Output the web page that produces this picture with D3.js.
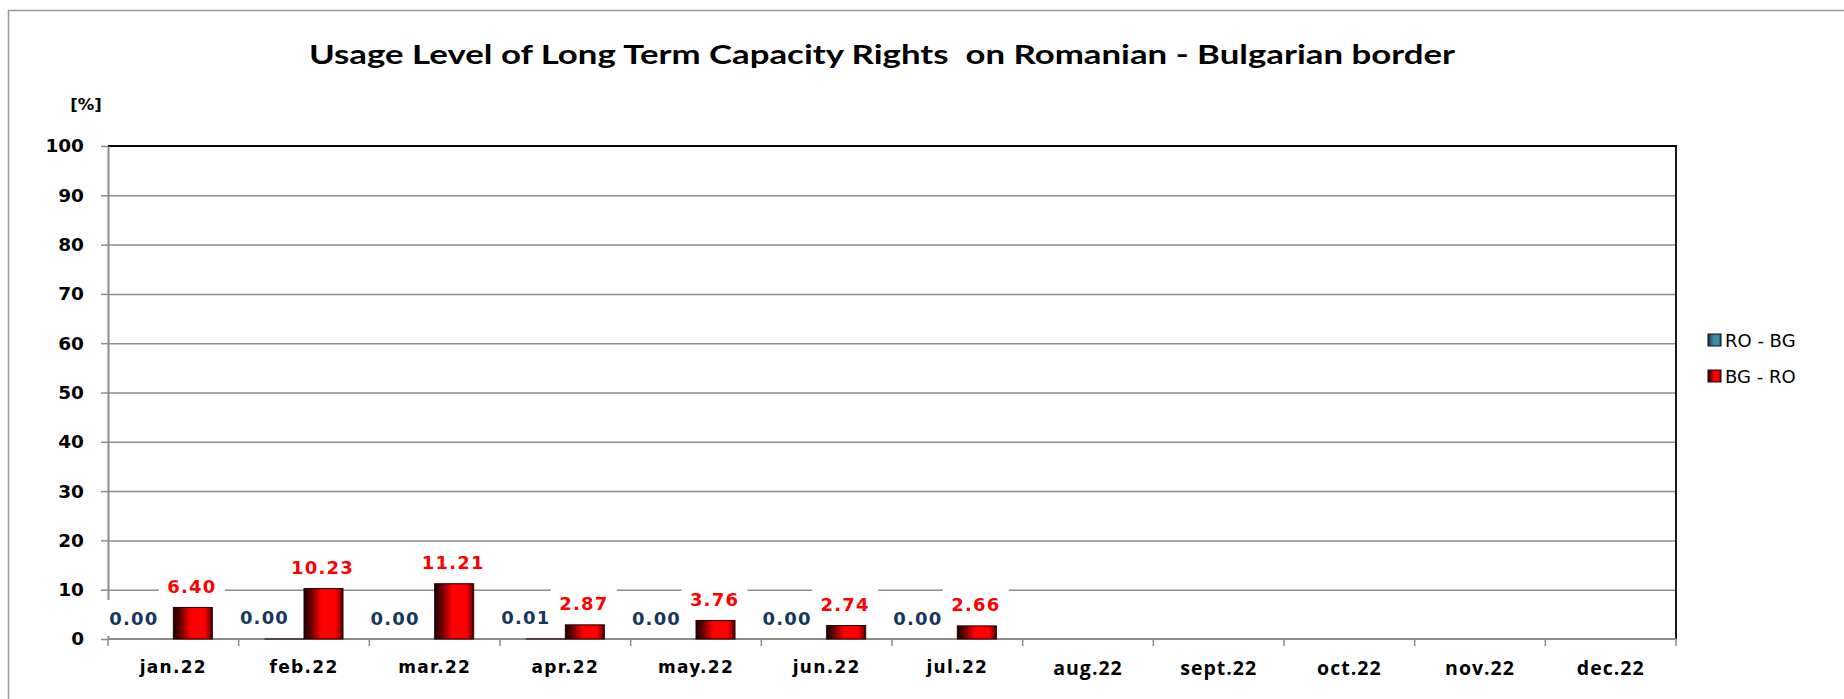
<!DOCTYPE html>
<html>
<head>
<meta charset="utf-8">
<script src="https://cdn.jsdelivr.net/npm/d3@7"></script>
<style>
  html, body { margin: 0; padding: 0; background: #fff; }
  svg { display: block; }
</style>
</head>
<body>
<svg id="chart" width="1844" height="699"></svg>
<script>
// Monthly usage of long term capacity rights, in percent
const categories = ["jan.22", "feb.22", "mar.22", "apr.22", "may.22", "jun.22",
                    "jul.22", "aug.22", "sept.22", "oct.22", "nov.22", "dec.22"];
const seriesNames = ["RO - BG", "BG - RO"];
const roBg = [0, 0.004, 0, 0.01, 0, 0, 0, null, null, null, null, null];
const bgRo = [6.40, 10.23, 11.21, 2.87, 3.76, 2.74, 2.66, null, null, null, null, null];
const yTicks = [0, 10, 20, 30, 40, 50, 60, 70, 80, 90, 100];
const titleText = "Usage Level of Long Term Capacity Rights  on Romanian - Bulgarian border";
const unitText = "[%]";

const svg = d3.select("#chart");
const plot = { left: 108, right: 1676, top: 146, bottom: 639 };

// gradients for the bar faces
const defs = svg.append("defs");
function barGradient(id, stops) {
  const g = defs.append("linearGradient").attr("id", id)
    .attr("x1", "0%").attr("x2", "100%").attr("y1", "0%").attr("y2", "0%");
  stops.forEach(([o, c]) => g.append("stop").attr("offset", o).attr("stop-color", c));
}
barGradient("gradRed", [["0%", "#1a0000"], ["15%", "#5a0000"], ["45%", "#ff0000"],
                        ["80%", "#ff0000"], ["93%", "#a00000"], ["100%", "#2a0000"]]);
barGradient("gradBlue", [["0%", "#0f2a33"], ["15%", "#1f5566"], ["45%", "#3a8fa8"],
                         ["80%", "#3a8fa8"], ["93%", "#24606f"], ["100%", "#10262c"]]);
const fills = { "RO - BG": "url(#gradBlue)", "BG - RO": "url(#gradRed)" };
const labelColors = { "RO - BG": "#17375e", "BG - RO": "#ff0000" };

// outer chart frame (extends past the right and bottom edges)
svg.append("rect")
  .attr("x", 8.5).attr("y", 10.5).attr("width", 1900).attr("height", 800)
  .attr("fill", "none").attr("stroke", "#9a9a9a").attr("stroke-width", 1.5);

// title
svg.append("text")
  .attr("x", 882).attr("y", 64)
  .attr("text-anchor", "middle")
  .attr("font-family", "Lato, 'Open Sans', sans-serif")
  .attr("font-weight", "bold").attr("font-size", 27)
  .attr("textLength", 1146).attr("lengthAdjust", "spacingAndGlyphs")
  .style("white-space", "pre")
  .attr("fill", "#000")
  .text(titleText);

// unit label
svg.append("text")
  .attr("x", 86).attr("y", 110)
  .attr("text-anchor", "middle")
  .attr("font-family", "'DejaVu Sans', sans-serif")
  .attr("font-weight", "bold").attr("font-size", 16.5)
  .text(unitText);

// scales
const x = d3.scaleBand().domain(categories).range([plot.left, plot.right]).paddingInner(0).paddingOuter(0);
const xs = d3.scaleBand().domain(seriesNames).range([0, x.bandwidth()]).paddingInner(0).paddingOuter(0.675);
const y = d3.scaleLinear().domain([0, 100]).range([plot.bottom, plot.top]);

// horizontal gridlines
svg.append("g")
  .attr("transform", `translate(${plot.left},0)`)
  .call(d3.axisLeft(y).tickValues(yTicks.slice(1, -1)).tickSize(-(plot.right - plot.left)).tickFormat(""))
  .call(g => g.select(".domain").remove())
  .call(g => g.selectAll(".tick line").attr("stroke", "#8c8c8c").attr("stroke-width", 1.5));

// plot-area border (top and right edges)
svg.append("path")
  .attr("d", `M${plot.left},${y(100)}H${plot.right}V${plot.bottom}`)
  .attr("fill", "none").attr("stroke", "#000").attr("stroke-width", 1.8);

// y axis
const yAxis = svg.append("g")
  .attr("transform", `translate(${plot.left},0)`)
  .call(d3.axisLeft(y).tickValues(yTicks).tickSize(7).tickSizeOuter(0).tickPadding(17))
  .call(g => g.select(".domain").attr("stroke", "#8c8c8c").attr("stroke-width", 2))
  .call(g => g.selectAll(".tick line").attr("stroke", "#8c8c8c").attr("stroke-width", 1.5));
yAxis.selectAll(".tick text")
  .attr("font-family", "'DejaVu Sans', sans-serif")
  .attr("font-weight", "bold").attr("font-size", 18.5)
  .attr("fill", "#000");

// x axis line and category boundary ticks
svg.append("line")
  .attr("x1", plot.left).attr("x2", plot.right)
  .attr("y1", plot.bottom).attr("y2", plot.bottom)
  .attr("stroke", "#8c8c8c").attr("stroke-width", 2);
const bounds = categories.map(c => x(c)).concat([plot.right]);
svg.append("g").selectAll("line").data(bounds).join("line")
  .attr("x1", d => d).attr("x2", d => d)
  .attr("y1", plot.bottom).attr("y2", plot.bottom + 7)
  .attr("stroke", "#8c8c8c").attr("stroke-width", 1.5);

// category labels
const xAxis = svg.append("g")
  .attr("transform", `translate(0,${plot.bottom})`)
  .call(d3.axisBottom(x).tickSize(0).tickPadding(22))
  .call(g => g.select(".domain").remove());
xAxis.selectAll(".tick text")
  .attr("fill", "#000")
  .attr("font-weight", "bold")
  .each(function (d, i) {
    const t = d3.select(this);
    if (i < 7) {
      t.attr("font-family", "'DejaVu Sans', sans-serif").attr("font-size", 17)
       .attr("letter-spacing", 1.3);
    } else {
      t.attr("font-family", "'Open Sans', Lato, sans-serif").attr("font-size", 19.5)
       .attr("letter-spacing", 1);
    }
  });

// bar records
const records = [];
categories.forEach((c, i) => {
  [[seriesNames[0], roBg[i]], [seriesNames[1], bgRo[i]]].forEach(([s, v]) => {
    if (v !== null) records.push({ cat: c, series: s, value: v });
  });
});

const fmt = d3.format(".2f");
const boxW = 66, boxH = 36;
function labelCx(d) {
  const cx = x(d.cat) + xs(d.series) + xs.bandwidth() / 2;
  return d.series === seriesNames[0] ? cx - 20 : cx - 1;
}
function labelCy(d) { return y(d.value) - 21; }

// white boxes behind the value labels
svg.append("g").selectAll("rect").data(records).join("rect")
  .attr("x", d => labelCx(d) - boxW / 2)
  .attr("y", d => labelCy(d) - boxH / 2)
  .attr("width", boxW).attr("height", boxH)
  .attr("fill", "#fff");

// bars
svg.append("g").selectAll("rect").data(records.filter(d => d.value > 0)).join("rect")
  .attr("x", d => x(d.cat) + xs(d.series))
  .attr("y", d => y(d.value))
  .attr("width", xs.bandwidth())
  .attr("height", d => y(0) - y(d.value))
  .attr("fill", d => fills[d.series])
  .attr("stroke", "#200000").attr("stroke-width", 1);

// value labels
svg.append("g").selectAll("text").data(records).join("text")
  .attr("x", d => labelCx(d))
  .attr("y", d => labelCy(d) + 6.5)
  .attr("text-anchor", "middle")
  .attr("font-family", "'DejaVu Sans', sans-serif")
  .attr("font-weight", "bold").attr("font-size", 18)
  .attr("letter-spacing", 1.2)
  .attr("fill", d => labelColors[d.series])
  .text(d => fmt(d.value));

// legend
const legend = svg.append("g").selectAll("g").data(seriesNames).join("g")
  .attr("transform", (d, i) => `translate(1708,${340 + i * 36})`);
legend.append("rect")
  .attr("x", 0).attr("y", -6).attr("width", 13).attr("height", 12)
  .attr("fill", d => fills[d]).attr("stroke", "#111").attr("stroke-width", 1);
legend.append("text")
  .attr("x", 17).attr("y", 6.5)
  .attr("font-family", "'DejaVu Sans', sans-serif")
  .attr("font-size", 18).attr("fill", "#000")
  .text(d => d);
</script>
</body>
</html>
